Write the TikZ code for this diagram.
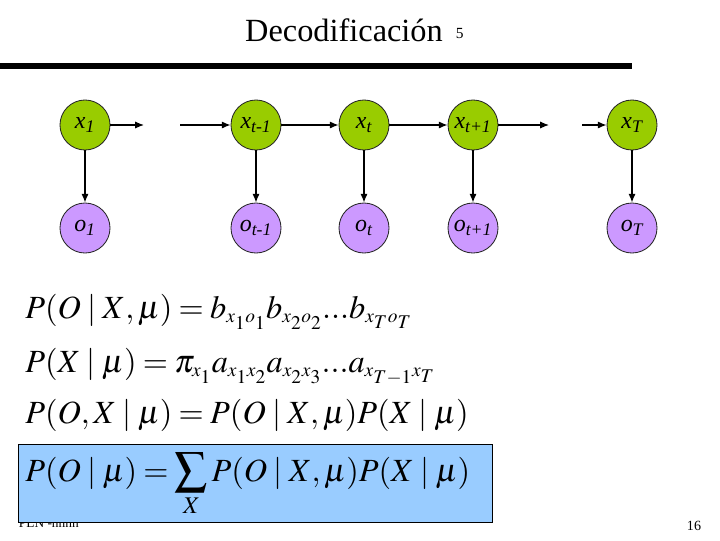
\documentclass[tikz,border=0pt]{standalone}
\usepackage{mathptmx}
\usepackage{fontspec}
\setmainfont{Liberation Serif}
\usetikzlibrary{positioning,arrows.meta}
\definecolor{statecol}{HTML}{99CC00}
\definecolor{obscol}{HTML}{CC99FF}
\definecolor{boxcol}{HTML}{99CCFF}
\newcommand{\given}{\;|\;}
\newcommand{\ssub}[1]{_{\scriptscriptstyle #1}}
\newcommand{\eqfont}{\fontsize{23}{28}\selectfont\thickmuskip=3.5mu\relax}
\tikzset{
  st/.style={circle, draw=black!85, line width=0.6pt, fill=#1, inner sep=0pt,
    minimum size=1.25cm, font=\fontsize{17}{19}\selectfont\itshape}}
\begin{document}
\begin{tikzpicture}[x=0.025cm, y=-0.025cm,
      tr/.style={-{Latex[length=2.2mm,width=1.8mm]}, line width=0.9pt, black},
      eq/.style={anchor=base west, inner sep=0pt, font=\eqfont}]
      \useasboundingbox (0,0) rectangle (720,540);
      % title and rule
      \node[anchor=base, font=\fontsize{23}{28}\selectfont] (title) at (344,41) {Decodificación};
      \node[anchor=base west, font=\fontsize{11}{13}\selectfont] (num) at (451,38) {5};
      \draw[line width=3.6pt] (0,66) -- (632,66);
      % hidden states
      \node[st=statecol] (x1) at (85,125) {x\textsubscript{1}};
      \node[st=statecol] (xp) at (256,125) {x\textsubscript{t-1}};
      \node[st=statecol] (xt) at (364,125) {x\textsubscript{t}};
      \node[st=statecol] (xn) at (473,125) {x\textsubscript{t+1}};
      \node[st=statecol] (xT) at (632,125) {x\textsubscript{T}};
      % observations
      \node[st=obscol] (o1) at (85,228) {o\textsubscript{1}};
      \node[st=obscol] (op) at (256,228) {o\textsubscript{t-1}};
      \node[st=obscol] (ot) at (364,228) {o\textsubscript{t}};
      \node[st=obscol] (on) at (473,228) {o\textsubscript{t+1}};
      \node[st=obscol] (oT) at (632,228) {o\textsubscript{T}};
      \coordinate (g1) at (144,125);
      \coordinate (g2) at (180,125);
      \coordinate (g3) at (549,125);
      \coordinate (g4) at (582,125);
      \draw[tr] (x1) -- (g1);
      \draw[tr] (g2) -- (xp);
      \draw[tr] (xp) -- (xt);
      \draw[tr] (xt) -- (xn);
      \draw[tr] (xn) -- (g3);
      \draw[tr] (g4) -- (xT);
      \foreach \s/\o in {x1/o1, xp/op, xt/ot, xn/on, xT/oT}
        \draw[tr] (\s) -- (\o);
      % equations
      \node[eq] (eqa) at (25,318) {$P(O\given X,\mu)=b\ssub{x_1o_1}b\ssub{x_2o_2}...b\ssub{x_To_T}$};
      \node[eq] (eqb) at (25,372) {$P(X\given\mu)=\pi\ssub{x_1}a\ssub{x_1x_2}a\ssub{x_2x_3}...a\ssub{x_{T-1}x_T}$};
      \node[eq] (eqc) at (25,423) {$P(O,X\given\mu)=P(O\given X,\mu)P(X\given\mu)$};
      \node[anchor=base west, font=\fontsize{9.5}{11}\selectfont] (foot) at (14,527) {PLN -nnnn};
      \node[anchor=base east, font=\fontsize{10}{12}\selectfont] (page) at (706,530) {16};
      \draw[fill=boxcol, draw=black, line width=0.6pt] (18,444) rectangle (492,522);
      \node[eq] (eqd) at (25,481) {$\displaystyle P(O\given\mu)=\sum_X P(O\given X,\mu)P(X\given\mu)$};
    \end{tikzpicture}
\end{document}
